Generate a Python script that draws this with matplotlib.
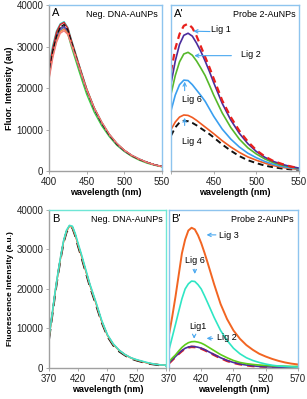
import numpy as np
import matplotlib
matplotlib.use("Agg")
import matplotlib.pyplot as plt

plt.rcParams['font.family'] = ['Liberation Sans', 'DejaVu Sans']

# wavelength grids (nm)
wl_top = [400, 405, 410, 415, 420, 425, 430, 435, 440, 445, 450,
          460, 470, 480, 490, 500, 510, 520, 530, 540, 550]
wl_bot = [370, 375, 380, 385, 390, 395, 400, 405, 410, 415, 420, 425, 430,
          440, 450, 460, 470, 480, 490, 500, 510, 520, 530, 540, 550, 560, 570]

# panel A - Neg. DNA-AuNPs (all ligands overlap)
a_turq   = [25500, 30300, 33800, 35500, 36000, 34600, 31500, 28600, 25600, 22800, 19900,
            15300, 11800, 8900, 6700, 5000, 3800, 2900, 2100, 1500, 1100]
a_red    = [24500, 29600, 33500, 35300, 35800, 34400, 31300, 28400, 25500, 22600, 19800,
            15200, 11700, 8800, 6600, 5000, 3700, 2800, 2100, 1500, 1100]
a_green  = [24000, 29200, 33000, 34500, 34800, 33000, 29800, 26900, 24000, 21200, 18500,
            14200, 10900, 8300, 6200, 4700, 3500, 2600, 1900, 1400, 1000]
a_purple = [23500, 28800, 32400, 34400, 34900, 33600, 30800, 28000, 25200, 22400, 19600,
            15100, 11600, 8700, 6500, 4900, 3700, 2800, 2100, 1500, 1100]
a_blue   = [23000, 28500, 32000, 34000, 34600, 33300, 30500, 27800, 25000, 22200, 19500,
            15000, 11500, 8700, 6500, 4900, 3700, 2800, 2100, 1500, 1100]
a_orange = [22500, 27800, 31500, 33600, 34200, 33200, 30600, 28000, 25200, 22400, 19700,
            15200, 11700, 8800, 6600, 5000, 3700, 2800, 2100, 1500, 1100]
a_salmon = [22000, 27300, 31000, 33200, 33800, 32900, 30300, 27700, 25000, 22300, 19600,
            15200, 11800, 8900, 6700, 5000, 3800, 2900, 2100, 1500, 1100]
a_black  = [23000, 28800, 32500, 34700, 35300, 34000, 31000, 28100, 25100, 22300, 19500,
            15000, 11500, 8700, 6500, 4900, 3700, 2800, 2100, 1500, 1100]

# panel A' - Probe 2-AuNPs
ap_red    = [24000, 29500, 33000, 35000, 35500, 34500, 32500, 30000, 27500, 25000, 22300,
             17000, 13000, 9700, 7100, 5000, 3500, 2400, 1700, 1100, 700]
ap_lig1   = [21000, 26500, 30500, 32700, 33200, 32500, 30800, 28800, 26500, 24000, 21300,
             16300, 12300, 9100, 6600, 4700, 3300, 2300, 1600, 1100, 700]
ap_lig2   = [18500, 23000, 26300, 28200, 28600, 27900, 26500, 24800, 23000, 20700, 18300,
             14000, 10500, 7700, 5600, 4100, 2900, 2000, 1400, 1000, 600]
ap_lig6   = [14500, 18300, 20800, 21900, 21800, 20800, 19500, 18200, 16800, 15000, 13200,
             10100, 7700, 5800, 4300, 3200, 2300, 1600, 1100, 750, 500]
ap_lig4   = [10000, 11800, 13000, 13500, 13400, 12900, 12200, 11400, 10600, 9800, 9000,
             7300, 5800, 4500, 3400, 2600, 1900, 1300, 900, 600, 400]
ap_black  = [8500, 10500, 11700, 12100, 12000, 11600, 11000, 10300, 9600, 8900, 8100,
             6400, 4900, 3600, 2600, 1900, 1300, 900, 600, 400, 300]

# panel B - Neg. DNA-AuNPs
b_black = [7300, 12700, 18200, 23300, 27800, 31800, 34400, 35700, 35500, 33400, 30700,
           28300, 25700, 20600, 16200, 11600, 8000, 5700, 4200, 3200, 2400, 1900, 1500,
           1100, 900, 700, 600]
b_red   = [7600, 13100, 18600, 23600, 28100, 32100, 34700, 36000, 35700, 33700, 31100,
           28700, 26100, 21000, 16600, 11900, 8300, 6000, 4500, 3400, 2600, 2000, 1600,
           1200, 1000, 800, 700]
b_orange = [7500, 13000, 18500, 23500, 28000, 32000, 34600, 35900, 35600, 33600, 31000,
            28600, 26000, 20900, 16500, 11800, 8200, 5900, 4400, 3300, 2500, 2000, 1600,
            1200, 1000, 800, 700]
b_turq  = [7800, 13300, 18800, 23800, 28300, 32300, 34900, 36100, 35900, 34000, 31400,
           29000, 26400, 21200, 16800, 12100, 8400, 6100, 4500, 3400, 2600, 2100, 1700,
           1300, 1000, 800, 700]

# panel B' - Probe 2-AuNPs
bp_lig3 = [8400, 13000, 18000, 23500, 29000, 32500, 34800, 35500, 35100, 33600, 31600,
           29200, 26600, 21200, 16200, 12400, 9500, 7400, 5800, 4600, 3600, 2900, 2300,
           1800, 1400, 1100, 900]
bp_lig6 = [4600, 7800, 11000, 14300, 17500, 20000, 21300, 22000, 21900, 21100, 20000,
           18300, 16500, 12800, 9500, 7000, 5000, 3600, 2600, 1900, 1400, 1000, 700,
           500, 400, 300, 200]
bp_lig2 = [1600, 2500, 3300, 4300, 5200, 5900, 6400, 6650, 6700, 6550, 6300,
           5900, 5400, 4400, 3400, 2600, 1900, 1400, 1100, 900, 750, 650, 550,
           500, 450, 400, 400]
bp_lig1 = [1300, 2100, 2900, 3700, 4400, 5000, 5300, 5450, 5400, 5250, 5000,
           4650, 4250, 3400, 2600, 1900, 1400, 1000, 750, 550, 400, 300, 250,
           200, 150, 150, 100]
bp_red  = [1200, 2000, 2800, 3600, 4300, 4900, 5200, 5350, 5300, 5150, 4900,
           4550, 4150, 3300, 2500, 1800, 1300, 950, 700, 500, 400, 300, 250,
           200, 150, 100, 100]

frame_blue = '#8ec4ee'
frame_turq = '#6fe6d6'
arrow_col = '#4aa8f0'
axis_gray = '#a0a0a0'

fig = plt.figure(figsize=(3.07, 3.99), dpi=100)
axA = fig.add_axes([0.1596, 0.5714, 0.368, 0.416])
axAp = fig.add_axes([0.557, 0.5714, 0.417, 0.416])
axB = fig.add_axes([0.1596, 0.0777, 0.381, 0.396])
axBp = fig.add_axes([0.5505, 0.0777, 0.420, 0.396])


def style(ax, frame, left_gray, xlim, xticks, xlabels):
    ax.set_xlim(xlim)
    ax.set_ylim(0, 40000)
    for s in ['top', 'right']:
        ax.spines[s].set_color(frame)
    ax.spines['left'].set_color(axis_gray if left_gray else frame)
    ax.spines['bottom'].set_color(axis_gray)
    for s in ax.spines.values():
        s.set_linewidth(1.0)
    ax.set_xticks(xticks)
    ax.set_xticklabels(xlabels)
    ax.tick_params(axis='both', direction='out', length=2, width=0.6,
                   color=axis_gray, labelsize=7, pad=2, labelcolor='#222222')
    ax.set_xlabel('wavelength (nm)', fontsize=6.5, fontweight='bold', labelpad=1)
    if left_gray:
        ax.set_yticks([0, 10000, 20000, 30000, 40000])
    else:
        ax.set_yticks([])


# A
style(axA, frame_blue, True, (400, 550), [400, 450, 500, 550], ['400', '450', '500', '550'])
for y, c, ls in [(a_green, '#3fcc3f', '-'), (a_turq, '#35d6c8', '-'), (a_blue, '#3a6fd8', '-'),
                 (a_purple, '#6a3fa8', '-'), (a_red, '#d9232a', '-'), (a_orange, '#f08a3a', '-'),
                 (a_black, '#111111', '--'), (a_salmon, '#f27a7a', '-')]:
    axA.plot(wl_top, y, color=c, ls=ls, lw=1.0)
axA.set_ylabel('Fluor. Intensity (au)', fontsize=6.5, fontweight='bold', labelpad=2)
axA.text(0.03, 0.95, 'A', transform=axA.transAxes, fontsize=8, va='center')
axA.text(0.965, 0.945, 'Neg. DNA-AuNPs', transform=axA.transAxes, fontsize=6.5,
         ha='right', va='center')

# A'
style(axAp, frame_blue, False, (400, 550), [400, 450, 500, 550], ['', '450', '500', '550'])
axAp.plot(wl_top, ap_black, color='#111111', ls=(0, (3, 2)), lw=1.4)
axAp.plot(wl_top, ap_lig4, color='#f05a22', lw=1.2)
axAp.plot(wl_top, ap_lig6, color='#3a9ff0', lw=1.2)
axAp.plot(wl_top, ap_lig2, color='#56b82a', lw=1.2)
axAp.plot(wl_top, ap_lig1, color='#4a2c9c', lw=1.2)
axAp.plot(wl_top, ap_red, color='#e8201c', ls=(0, (3, 2)), lw=1.6)
axAp.text(0.025, 0.945, "A'", transform=axAp.transAxes, fontsize=8, va='center')
axAp.text(0.97, 0.945, 'Probe 2-AuNPs', transform=axAp.transAxes, fontsize=6.5,
          ha='right', va='center')
arr = dict(arrowstyle='->', color=arrow_col, lw=0.8, mutation_scale=6)
axAp.annotate('', xy=(423, 33700), xytext=(449, 33600), arrowprops=arr)
axAp.text(459, 34000, 'Lig 1', fontsize=6.5, ha='center', va='center')
axAp.annotate('', xy=(424, 27800), xytext=(474, 27800), arrowprops=arr)
axAp.text(494, 28100, 'Lig 2', fontsize=6.5, ha='center', va='center')
axAp.annotate('', xy=(416, 22200), xytext=(416, 18700), arrowprops=arr)
axAp.text(425, 17300, 'Lig 6', fontsize=6.5, ha='center', va='center')
axAp.annotate('', xy=(416, 13500), xytext=(416, 10300), arrowprops=arr)
axAp.text(424, 7200, 'Lig 4', fontsize=6.5, ha='center', va='center')

# B
style(axB, frame_turq, True, (370, 570), [370, 420, 470, 520, 570], ['370', '420', '470', '520', ''])
axB.plot(wl_bot, b_black, color='#111111', ls=(0, (5, 3)), lw=1.5)
axB.plot(wl_bot, b_red, color='#d9232a', lw=1.0)
axB.plot(wl_bot, b_orange, color='#f07a30', lw=1.0)
axB.plot(wl_bot, b_turq, color='#40e6cc', lw=1.2)
axB.set_ylabel('Fluorescence Intensity (a.u.)', fontsize=6, fontweight='bold', labelpad=2)
axB.text(0.03, 0.94, 'B', transform=axB.transAxes, fontsize=8, va='center')
axB.text(0.97, 0.94, 'Neg. DNA-AuNPs', transform=axB.transAxes, fontsize=6.5,
         ha='right', va='center')

# B'
style(axBp, frame_blue, False, (370, 570), [370, 420, 470, 520, 570], ['370', '420', '470', '520', '570'])
axBp.plot(wl_bot, bp_red, color='#e8201c', ls=(0, (3, 2)), lw=1.8)
axBp.plot(wl_bot, bp_lig1, color='#4a2c9c', lw=1.2)
axBp.plot(wl_bot, bp_lig2, color='#5ccc1a', lw=1.2)
axBp.plot(wl_bot, bp_lig6, color='#2ee6c4', lw=1.2)
axBp.plot(wl_bot, bp_lig3, color='#f26522', lw=1.4)
axBp.text(0.02, 0.94, "B'", transform=axBp.transAxes, fontsize=8, va='center')
axBp.text(0.97, 0.94, 'Probe 2-AuNPs', transform=axBp.transAxes, fontsize=6.5,
          ha='right', va='center')
axBp.annotate('', xy=(424, 33700), xytext=(447, 33700), arrowprops=arr)
axBp.text(463, 33500, 'Lig 3', fontsize=6.5, ha='center', va='center')
axBp.annotate('', xy=(410, 23100), xytext=(410, 25700), arrowprops=arr)
axBp.text(410, 27300, 'Lig 6', fontsize=6.5, ha='center', va='center')
axBp.annotate('', xy=(409, 6700), xytext=(409, 8900), arrowprops=arr)
axBp.text(415, 10500, 'Lig1', fontsize=6.5, ha='center', va='center')
axBp.annotate('', xy=(424, 7500), xytext=(442, 7500), arrowprops=arr)
axBp.text(460, 7800, 'Lig 2', fontsize=6.5, ha='center', va='center')

fig.savefig('out.png', dpi=100)
